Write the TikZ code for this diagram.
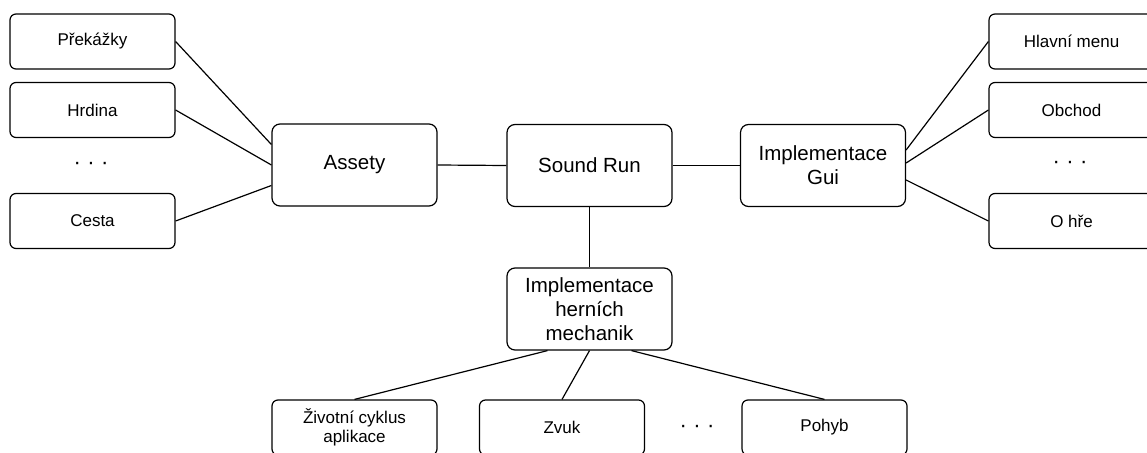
\documentclass[tikz,border=0pt]{standalone}
\usepackage{fontspec}
\setmainfont{Liberation Sans}
\begin{document}
\begin{tikzpicture}[x=1pt,y=-1pt,
  big/.style={draw, line width=1.2pt, rounded corners=8pt, minimum width=165pt, minimum height=82pt, inner sep=0pt, font=\fontsize{20.5}{24}\selectfont, align=center},
  small/.style={draw, line width=1.2pt, rounded corners=6pt, minimum width=165pt, minimum height=55pt, inner sep=0pt, font=\fontsize{17}{19}\selectfont, align=center},
  dotsnode/.style={font=\fontsize{22}{24}\selectfont, inner sep=0pt},
  conn/.style={line width=1.2pt}]
\clip (0,0) rectangle (1147,452);
\fill[white] (0,0) rectangle (1147,452);
% left column
\node[small] (pr) at (92.5,41.5) {Překážky};
\node[small] (hr) at (92.5,110) {Hrdina};
\node[dotsnode] (ld) at (91,166) {·\hskip 6.4pt·\hskip 6.4pt·};
\node[small] (ce) at (92.5,221) {Cesta};
% middle row
\node[big] (as) at (354.5,165) {Assety};
\node[big] (sr) at (589.5,165.5) {Sound Run};
\node[big] (gu) at (823,165.5) {Implementace\\Gui};
% right column
\node[small] (hm) at (1071.5,41.5) {Hlavní menu};
\node[small] (ob) at (1071.5,110) {Obchod};
\node[dotsnode] (rd) at (1070,165) {·\hskip 6.4pt·\hskip 6.4pt·};
\node[small] (oh) at (1071.5,221) {O hře};
% mechanics
\node[big] (me) at (589.5,309) {Implementace\\herních\\mechanik};
\node[small] (zi) at (354.5,427.5) {Životní cyklus\\aplikace};
\node[small] (zv) at (562,427.5) {Zvuk};
\node[dotsnode] (bd) at (697,429) {·\hskip 6.4pt·\hskip 6.4pt·};
\node[small] (po) at (824.5,427.5) {Pohyb};
% connectors
\draw[conn] (pr.east) -- ([yshift=20.5pt]as.west);
\draw[conn] (hr.east) -- (as.west);
\draw[conn] (ce.east) -- ([yshift=-20.5pt]as.west);
\draw[conn] (as.east) -- (sr.west);
\draw[conn] (sr.east) -- (gu.west);
\draw[conn] ([yshift=15.5pt]gu.east) -- (hm.west);
\draw[conn] ([yshift=2.5pt]gu.east) -- (ob.west);
\draw[conn] ([yshift=-14.5pt]gu.east) -- (oh.west);
\draw[conn] (sr.south) -- (me.north);
\draw[conn] ([xshift=-42pt]me.south) -- (zi.north);
\draw[conn] (me.south) -- (zv.north);
\draw[conn] ([xshift=42pt]me.south) -- (po.north);
\end{tikzpicture}
\end{document}
